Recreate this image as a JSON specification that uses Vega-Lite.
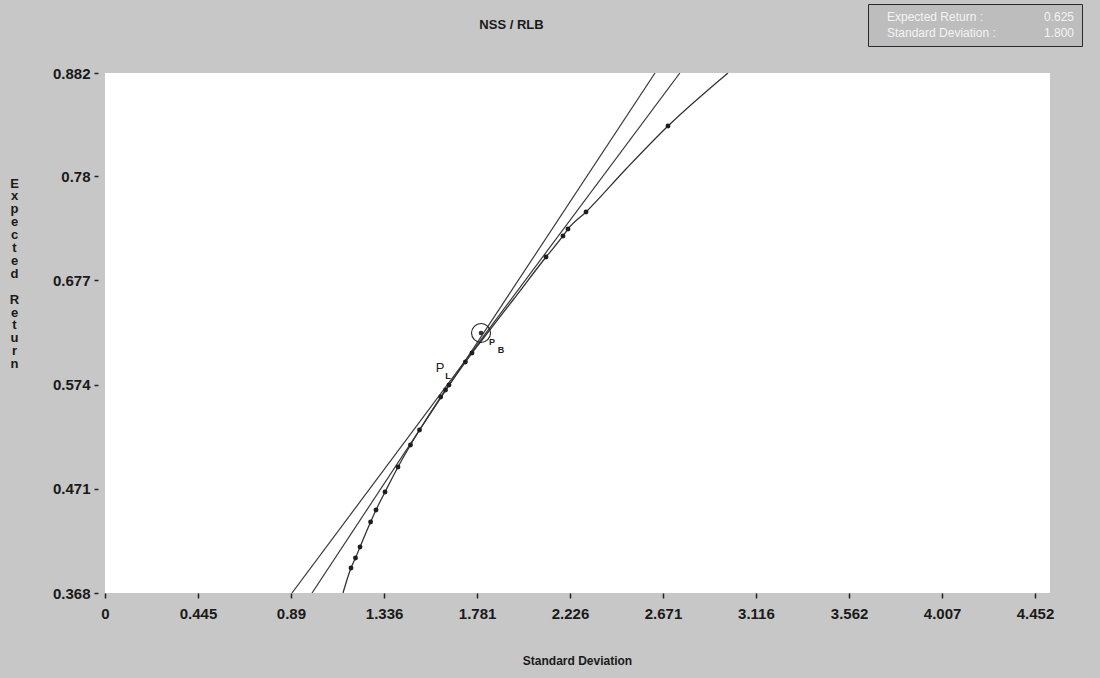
{
  "$schema": "https://vega.github.io/schema/vega-lite/v6.json",
  "width": 945,
  "height": 520,
  "autosize": {"type": "none"},
  "padding": {"left": 105, "top": 73, "right": 50, "bottom": 85},
  "background": "#c7c7c7",
  "config": {
    "view": {"fill": "white", "stroke": null},
    "font": "Liberation Sans"
  },
  "title": {
    "text": "NSS / RLB",
    "font": "Liberation Sans",
    "fontSize": 13,
    "fontWeight": "bold",
    "color": "#1a1a1a",
    "dx": -66,
    "offset": -28
  },
  "datasets": {
    "marketLines": [
      {"line": "lending", "sd": 0.895, "ret": 0.368},
      {"line": "lending", "sd": 2.752, "ret": 0.882},
      {"line": "borrowing", "sd": 0.991, "ret": 0.368},
      {"line": "borrowing", "sd": 2.633, "ret": 0.882}
    ],
    "frontier": [
      {"sd": 1.1393, "ret": 0.368},
      {"sd": 1.1776, "ret": 0.3927},
      {"sd": 1.1991, "ret": 0.4026},
      {"sd": 1.2207, "ret": 0.4135},
      {"sd": 1.2714, "ret": 0.4382},
      {"sd": 1.2973, "ret": 0.4501},
      {"sd": 1.3404, "ret": 0.4678},
      {"sd": 1.4026, "ret": 0.4926},
      {"sd": 1.4624, "ret": 0.5143},
      {"sd": 1.5055, "ret": 0.5291},
      {"sd": 1.607, "ret": 0.5617},
      {"sd": 1.63, "ret": 0.5687},
      {"sd": 1.6467, "ret": 0.5736},
      {"sd": 1.7252, "ret": 0.5963},
      {"sd": 1.7568, "ret": 0.6052},
      {"sd": 1.8047, "ret": 0.6181},
      {"sd": 1.9531, "ret": 0.6576},
      {"sd": 2.1111, "ret": 0.7001},
      {"sd": 2.1924, "ret": 0.7209},
      {"sd": 2.2164, "ret": 0.7278},
      {"sd": 2.3026, "ret": 0.7446},
      {"sd": 2.494, "ret": 0.7871},
      {"sd": 2.6951, "ret": 0.8296},
      {"sd": 2.9823, "ret": 0.882}
    ],
    "portfolios": [
      {"sd": 1.1776, "ret": 0.3927},
      {"sd": 1.1991, "ret": 0.4026},
      {"sd": 1.2207, "ret": 0.4135},
      {"sd": 1.2714, "ret": 0.4382},
      {"sd": 1.2973, "ret": 0.4501},
      {"sd": 1.3404, "ret": 0.4678},
      {"sd": 1.4026, "ret": 0.4926},
      {"sd": 1.4624, "ret": 0.5143},
      {"sd": 1.5055, "ret": 0.5291},
      {"sd": 1.607, "ret": 0.5617},
      {"sd": 1.63, "ret": 0.5687},
      {"sd": 1.6467, "ret": 0.5736},
      {"sd": 1.7252, "ret": 0.5963},
      {"sd": 1.7568, "ret": 0.6052},
      {"sd": 2.1111, "ret": 0.7001},
      {"sd": 2.1924, "ret": 0.7209},
      {"sd": 2.2164, "ret": 0.7278},
      {"sd": 2.3026, "ret": 0.7446},
      {"sd": 2.6951, "ret": 0.8296}
    ],
    "selected": [
      {"sd": 1.8, "ret": 0.625}
    ],
    "tags": [
      {"sd": 1.604, "ret": 0.5904, "text": "P"}
    ],
    "tagSubscripts": [
      {"sd": 1.642, "ret": 0.5825, "text": "L"},
      {"sd": 1.8526, "ret": 0.6161, "text": "P"},
      {"sd": 1.8956, "ret": 0.6082, "text": "B"}
    ]
  },
  "encoding": {
    "x": {
      "field": "sd",
      "type": "quantitative",
      "scale": {"domain": [0, 4.5237], "nice": false, "zero": false},
      "axis": {
        "values": [0, 0.445, 0.89, 1.336, 1.781, 2.226, 2.671, 3.116, 3.562, 4.007, 4.452],
        "format": ".4~g",
        "grid": false,
        "domain": false,
        "tickSize": 5,
        "tickWidth": 1.5,
        "tickColor": "#222222",
        "labelFlush": false,
        "labelOverlap": false,
        "labelFont": "Liberation Sans",
        "labelFontSize": 15,
        "labelFontWeight": "bold",
        "labelColor": "#1a1a1a",
        "labelPadding": 8,
        "title": "Standard Deviation",
        "titleFont": "Liberation Sans",
        "titleFontSize": 12,
        "titleFontWeight": "bold",
        "titleColor": "#1a1a1a",
        "titleX": 472,
        "titleY": 67,
        "titleBaseline": "middle"
      }
    },
    "y": {
      "field": "ret",
      "type": "quantitative",
      "scale": {"domain": [0.368, 0.882], "nice": false, "zero": false},
      "axis": {
        "values": [0.368, 0.471, 0.574, 0.677, 0.78, 0.882],
        "format": ".4~g",
        "grid": false,
        "domain": false,
        "offset": 7,
        "tickSize": 4,
        "tickWidth": 1.5,
        "tickColor": "#222222",
        "labelFlush": false,
        "labelOverlap": false,
        "labelFont": "Liberation Sans",
        "labelFontSize": 15,
        "labelFontWeight": "bold",
        "labelColor": "#1a1a1a",
        "labelPadding": 4,
        "title": ["E", "x", "p", "e", "c", "t", "e", "d", "\u200b", "R", "e", "t", "u", "r", "n"],
        "titleFont": "Liberation Sans",
        "titleFontSize": 13,
        "titleFontWeight": "bold",
        "titleColor": "#1a1a1a",
        "titleAngle": 0,
        "titleAlign": "center",
        "titleBaseline": "top",
        "titleLineHeight": 12.9,
        "titleX": -84,
        "titleY": 104
      }
    }
  },
  "layer": [
    {
      "data": {"name": "marketLines"},
      "mark": {"type": "line", "color": "#3a3a3a", "strokeWidth": 1.2, "clip": true},
      "encoding": {"detail": {"field": "line"}}
    },
    {
      "data": {"name": "frontier"},
      "mark": {"type": "line", "color": "#333333", "strokeWidth": 1.3, "interpolate": "monotone", "clip": true},
      "encoding": {}
    },
    {
      "data": {"name": "portfolios"},
      "mark": {"type": "point", "filled": true, "shape": "circle", "size": 24, "color": "#1e1e1e", "opacity": 1}
    },
    {
      "data": {"name": "selected"},
      "mark": {"type": "point", "filled": false, "shape": "circle", "size": 360, "strokeWidth": 1.1, "opacity": 1},
      "encoding": {
        "color": {
          "datum": "Expected Return :",
          "type": "nominal",
          "scale": {
            "domain": ["Expected Return :", "Standard Deviation :", "0.625", "1.800"],
            "range": ["#222222", "#222222", "#222222", "#222222"]
          },
          "legend": {
            "title": null,
            "orient": "none",
            "legendX": 763,
            "legendY": -69,
            "columns": 2,
            "columnPadding": 36,
            "rowPadding": 4,
            "symbolSize": 0,
            "symbolOpacity": 0,
            "symbolStrokeWidth": 0,
            "labelOffset": 0,
            "labelFont": "Liberation Sans",
            "labelFontSize": 12,
            "labelColor": "#f4f4f4",
            "strokeColor": "#2a2a2a",
            "fillColor": "#bdbdbd",
            "padding": 7
          }
        }
      }
    },
    {
      "data": {"name": "selected"},
      "mark": {"type": "point", "filled": true, "shape": "circle", "size": 22, "color": "#333333", "opacity": 1}
    },
    {
      "data": {"name": "tags"},
      "mark": {"type": "text", "font": "Liberation Sans", "fontSize": 13, "color": "#222222", "align": "center", "baseline": "middle"},
      "encoding": {"text": {"field": "text"}}
    },
    {
      "data": {"name": "tagSubscripts"},
      "mark": {"type": "text", "font": "Liberation Sans", "fontSize": 9, "fontWeight": "bold", "color": "#222222", "align": "center", "baseline": "middle"},
      "encoding": {"text": {"field": "text"}}
    }
  ]
}
